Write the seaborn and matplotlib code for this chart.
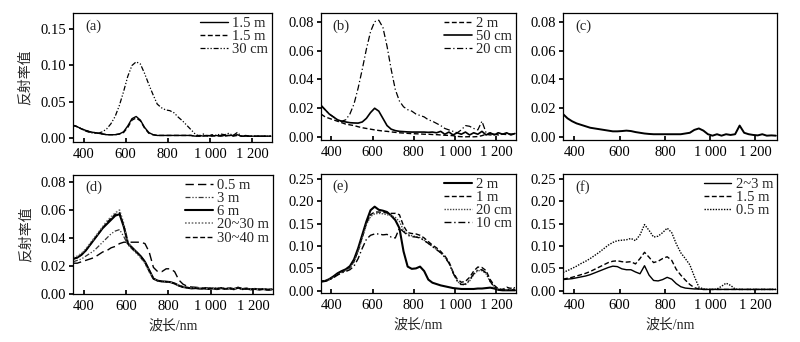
#!/usr/bin/env python3
"""
plot.py — Espectros de reflectância (seis painéis, a–f)

Saída:
    out.png (800x342)
"""

import matplotlib.pyplot as plt
import seaborn as sns

# ── Dados ──────────────────────────────────────────────────────
WL = [350, 370, 390, 410, 430, 450, 470, 490,
      510, 530, 550, 570, 590, 610, 630, 650,
      670, 690, 710, 730, 750, 770, 790, 810,
      830, 850, 870, 890, 910, 930, 950, 970,
      990, 1010, 1030, 1050, 1070, 1090, 1110, 1130,
      1150, 1170, 1190, 1210, 1230, 1250, 1270, 1290]

# (a)
A_15M_SOLIDO = [.018, .016, .013, .011, .009, .008, .007, .006,
                .005, .005, .005, .006, .009, .017, .027, .030,
                .025, .015, .008, .005, .004, .004, .004, .004,
                .004, .004, .004, .004, .004, .003, .004, .003,
                .004, .003, .004, .003, .004, .004, .004, .005,
                .003, .003, .003, .003, .003, .003, .003, .003]
A_15M_TRACO = [.018, .016, .013, .011, .009, .008, .007, .006,
               .005, .005, .005, .006, .008, .015, .025, .028,
               .024, .014, .007, .005, .004, .004, .004, .004,
               .004, .004, .004, .004, .004, .003, .003, .004,
               .003, .004, .003, .004, .003, .004, .003, .004,
               .003, .003, .003, .003, .003, .003, .003, .003]
A_30CM = [.018, .016, .013, .010, .008, .007, .007, .009,
          .013, .020, .030, .045, .064, .085, .100, .105,
          .102, .089, .074, .060, .047, .042, .039, .038,
          .035, .029, .024, .018, .012, .006, .003, .006,
          .003, .005, .004, .006, .005, .007, .004, .008,
          .003, .004, .003, .003, .003, .003, .003, .003]

# (b)
B_2M = [.016, .014, .013, .012, .011, .010, .009, .0085,
        .008, .0072, .0065, .006, .0055, .005, .0046, .0042,
        .004, .0036, .0033, .003, .0028, .0026, .0024, .0023,
        .0022, .002, .002, .0018, .0017, .0015, .0013, .0012,
        .001, .0005, .0003, .0002, .0003, .0002, .0004, .001,
        .002, .0015, .002, .0015, .002, .0018, .0022, .002]
B_50CM = [.022, .019, .016, .014, .012, .011, .0105, .010,
          .0098, .0097, .0105, .013, .017, .020, .018, .013,
          .008, .0055, .0045, .004, .0038, .0036, .0035, .0035,
          .0035, .0035, .0033, .0035, .003, .004, .002, .0035,
          .0015, .003, .002, .0035, .0015, .003, .002, .004,
          .0015, .003, .0015, .003, .002, .003, .0015, .0025]
B_20CM = [.022, .019, .016, .014, .012, .011, .012, .016,
          .023, .034, .047, .061, .073, .080, .081, .076,
          .063, .047, .033, .025, .021, .019, .018, .016,
          .015, .014, .012, .011, .0095, .008, .006, .005,
          .004, .003, .005, .008, .0075, .006, .005, .011,
          .003, .0025, .002, .003, .002, .0025, .002, .0025]

# (c)
C_CURVA = [.016, .013, .011, .0095, .0085, .0075, .0065, .006,
           .0055, .005, .0045, .004, .004, .0042, .0045, .0042,
           .0035, .003, .0025, .0022, .002, .002, .002, .002,
           .002, .002, .002, .0025, .003, .005, .006, .0045,
           .002, .001, .002, .001, .002, .0015, .002, .008,
           .003, .002, .0015, .0012, .002, .001, .0012, .001]

# (d)
D_05M = [.022, .022, .023, .024, .025, .026, .028, .030,
         .031, .033, .034, .036, .037, .037, .037, .037,
         .037, .036, .030, .019, .016, .016, .018, .018,
         .016, .010, .007, .0055, .005, .0048, .0045, .0045,
         .0042, .0045, .004, .0044, .004, .0042, .0038, .0045,
         .0038, .004, .0035, .0037, .0033, .0035, .0032, .0033]
D_3M = [.023, .024, .025, .027, .029, .031, .034, .037,
        .040, .043, .045, .046, .041, .035, .032, .029,
        .026, .022, .016, .011, .0095, .009, .0088, .0085,
        .0075, .006, .005, .0045, .004, .0042, .0038, .004,
        .0036, .004, .0035, .0042, .0036, .004, .0034, .0045,
        .0035, .0038, .0033, .0036, .0032, .0035, .003, .0033]
D_6M = [.025, .026, .028, .031, .035, .039, .043, .047,
        .050, .053, .056, .057, .048, .036, .033, .030,
        .027, .023, .017, .011, .0095, .009, .0088, .0085,
        .0075, .006, .005, .0045, .004, .0042, .0038, .004,
        .0036, .004, .0035, .0042, .0036, .004, .0034, .0045,
        .0035, .0038, .0033, .0036, .0032, .0035, .003, .0033]
D_20_30M = [.026, .027, .029, .032, .036, .040, .044, .048,
            .052, .055, .058, .060, .050, .037, .033, .030,
            .026, .022, .016, .011, .0095, .009, .0088, .0085,
            .0076, .0062, .0052, .0046, .0042, .0045, .0037, .0043,
            .0035, .0044, .0034, .0046, .0035, .0043, .0033, .0048,
            .0034, .004, .0032, .0038, .0031, .0036, .0031, .0034]
D_30_40M = [.025, .026, .028, .031, .035, .039, .043, .047,
            .051, .054, .057, .058, .049, .036, .033, .030,
            .027, .023, .017, .011, .0095, .009, .0088, .0085,
            .0075, .006, .005, .0045, .004, .0042, .0038, .004,
            .0036, .004, .0035, .0042, .0036, .004, .0034, .0045,
            .0035, .0038, .0033, .0036, .0032, .0035, .003, .0033]

# (e)
E_2M = [.021, .022, .026, .032, .039, .044, .048, .055,
        .070, .095, .125, .155, .180, .188, .181, .179,
        .176, .168, .158, .140, .088, .054, .049, .050,
        .054, .044, .025, .018, .015, .012, .010, .008,
        .006, .005, .004, .004, .004, .004, .005, .005,
        .006, .007, .005, .002, .001, .001, .001, .001]
E_1M = [.021, .022, .025, .031, .037, .042, .046, .052,
        .066, .090, .120, .150, .170, .176, .176, .175,
        .174, .173, .173, .170, .145, .130, .128, .127,
        .124, .118, .110, .102, .096, .088, .078, .065,
        .042, .026, .019, .021, .030, .044, .053, .052,
        .045, .025, .012, .004, .003, .008, .005, .007]
E_20CM = [.021, .022, .025, .030, .036, .041, .045, .051,
          .064, .088, .118, .148, .166, .172, .173, .172,
          .170, .168, .164, .155, .135, .126, .123, .121,
          .119, .113, .106, .099, .092, .085, .075, .062,
          .040, .022, .013, .014, .022, .036, .045, .045,
          .038, .020, .008, .003, .004, .002, .006, .004]
E_10CM = [.020, .021, .024, .029, .035, .040, .043, .047,
          .055, .072, .095, .115, .124, .127, .127, .125,
          .126, .120, .118, .140, .132, .124, .121, .120,
          .118, .112, .106, .099, .092, .085, .075, .062,
          .040, .022, .014, .015, .024, .038, .047, .047,
          .040, .021, .008, .003, .002, .002, .002, .002]

# (f)
F_2_3M = [.025, .026, .027, .029, .031, .033, .036, .040,
          .044, .048, .052, .055, .054, .049, .047, .047,
          .042, .038, .056, .035, .023, .022, .025, .030,
          .026, .016, .009, .006, .005, .004, .004, .003,
          .003, .003, .003, .003, .003, .003, .003, .003,
          .003, .003, .003, .003, .003, .003, .003, .003]
F_15M = [.026, .028, .030, .033, .036, .039, .043, .048,
         .053, .058, .063, .066, .067, .065, .064, .065,
         .060, .072, .086, .075, .063, .066, .072, .076,
         .068, .048, .035, .024, .014, .007, .004, .003,
         .003, .003, .003, .003, .003, .003, .003, .003,
         .003, .003, .003, .003, .003, .003, .003, .003]
F_05M = [.041, .045, .050, .055, .061, .066, .072, .079,
         .086, .094, .102, .108, .112, .113, .114, .117,
         .112, .125, .148, .135, .120, .122, .130, .140,
         .130, .105, .085, .072, .058, .032, .008, .004,
         .003, .003, .004, .010, .017, .012, .004, .003,
         .003, .003, .003, .003, .003, .003, .003, .003]

X_TICKS = [400, 600, 800, 1000, 1200]
X_TICK_LABELS = ["400", "600", "800", "1 000", "1 200"]
Y_LABEL = "反射率值"
X_LABEL = "波长/nm"

# ── Estilo ─────────────────────────────────────────────────────
sns.set_theme(style="ticks")
plt.rcParams["font.family"] = ["Liberation Serif", "Noto Sans CJK SC"]
plt.rcParams.update({
    "font.size": 10,
    "axes.linewidth": 0.9,
    "axes.edgecolor": "black",
    "xtick.direction": "in",
    "ytick.direction": "out",
    "xtick.major.size": 3,
    "ytick.major.size": 3,
    "xtick.labelsize": 10.5,
    "ytick.labelsize": 10.5,
    "xtick.color": "black",
    "ytick.color": "black",
})

SOLIDO = "-"
TRACO = (0, (3.5, 1.8))
TRACO_LONGO = (0, (6, 3))
TRACO_PONTO = (0, (5, 2, 1, 2))
TRACO_2PONTOS = (0, (4, 1.5, 1, 1.5, 1, 1.5))
PONTILHADO = (0, (1, 1))

# (rótulo, ylim, yticks, formato, séries)
PAINEIS = [
    ("(a)", (-0.005, 0.172), [0.0, 0.05, 0.10, 0.15], "{:.2f}", [
        ("1.5 m", A_15M_SOLIDO, SOLIDO, "black", 1.0),
        ("1.5 m", A_15M_TRACO, TRACO, "black", 1.0),
        ("30 cm", A_30CM, TRACO_2PONTOS, "black", 0.9),
    ]),
    ("(b)", (-0.002, 0.086), [0.0, 0.02, 0.04, 0.06, 0.08], "{:.2f}", [
        ("2 m", B_2M, TRACO, "black", 1.0),
        ("50 cm", B_50CM, SOLIDO, "black", 1.2),
        ("20 cm", B_20CM, TRACO_PONTO, "black", 0.9),
    ]),
    ("(c)", (-0.002, 0.086), [0.0, 0.02, 0.04, 0.06, 0.08], "{:.2f}", [
        (None, C_CURVA, SOLIDO, "black", 1.4),
    ]),
    ("(d)", (0.0, 0.085), [0.0, 0.02, 0.04, 0.06, 0.08], "{:.2f}", [
        ("0.5 m", D_05M, TRACO_LONGO, "black", 1.0),
        ("3 m", D_3M, TRACO_2PONTOS, "#333333", 0.9),
        ("6 m", D_6M, SOLIDO, "black", 1.5),
        ("20~30 m", D_20_30M, PONTILHADO, "#777777", 1.2),
        ("30~40 m", D_30_40M, TRACO, "black", 1.0),
    ]),
    ("(e)", (-0.005, 0.261), [0.0, 0.05, 0.10, 0.15, 0.20, 0.25], "{:.2f}", [
        ("2 m", E_2M, SOLIDO, "black", 1.5),
        ("1 m", E_1M, TRACO, "black", 1.0),
        ("20 cm", E_20CM, PONTILHADO, "#444444", 1.0),
        ("10 cm", E_10CM, TRACO_PONTO, "black", 1.0),
    ]),
    ("(f)", (-0.005, 0.261), [0.0, 0.05, 0.10, 0.15, 0.20, 0.25], "{:.2f}", [
        ("2~3 m", F_2_3M, SOLIDO, "black", 1.0),
        ("1.5 m", F_15M, TRACO, "black", 1.0),
        ("0.5 m", F_05M, PONTILHADO, "black", 1.0),
    ]),
]

# posições dos eixos em pixels (esq, topo, dir, base)
POSICOES = [
    (73, 13, 272, 142), (321, 13, 516, 140), (563, 13, 777, 140),
    (73, 175, 273, 294), (321, 174, 516, 293), (563, 174, 777, 293),
]


def desenhar_painel(ax, painel):
    """Desenha um painel com suas curvas."""
    rotulo, ylim, yticks, yfmt, series = painel
    for nome, valores, estilo, cor, lw in series:
        sns.lineplot(x=WL, y=valores, ax=ax, color=cor, linestyle=estilo,
                     linewidth=lw, label=nome, errorbar=None, sort=False)
    ax.set_xlim(350, 1295)
    ax.set_ylim(*ylim)
    ax.set_xticks(X_TICKS)
    ax.set_xticklabels(X_TICK_LABELS)
    ax.set_yticks(yticks)
    ax.set_yticklabels([yfmt.format(v) for v in yticks])
    ax.tick_params(axis="x", pad=4)
    ax.tick_params(axis="y", pad=2)
    ax.text(0.06, 0.95, rotulo, transform=ax.transAxes, va="top",
            ha="left", fontsize=10.5)
    for lado in ["top", "right"]:
        ax.spines[lado].set_visible(True)
    if any(s[0] for s in series):
        ax.legend(loc="upper right", frameon=False, fontsize=10.5,
                  handlelength=1.9, handletextpad=0.3, labelspacing=0.0,
                  borderaxespad=0.1, borderpad=0.15)
    elif ax.get_legend() is not None:
        ax.get_legend().remove()


def main():
    largura, altura = 800, 342
    fig = plt.figure(figsize=(largura / 100, altura / 100), dpi=100)
    eixos = []
    for (esq, topo, dir_, base), painel in zip(POSICOES, PAINEIS):
        ax = fig.add_axes([esq / largura, 1 - base / altura,
                           (dir_ - esq) / largura, (base - topo) / altura])
        desenhar_painel(ax, painel)
        ax.set_xlabel("")
        ax.set_ylabel("")
        eixos.append(ax)

    for ax in eixos[3:]:
        ax.set_xlabel(X_LABEL, fontsize=10, labelpad=5)
    for ax in (eixos[0], eixos[3]):
        ax.set_ylabel(Y_LABEL, fontsize=10, labelpad=6)

    fig.savefig("out.png", dpi=100)
    plt.close(fig)


if __name__ == "__main__":
    main()
